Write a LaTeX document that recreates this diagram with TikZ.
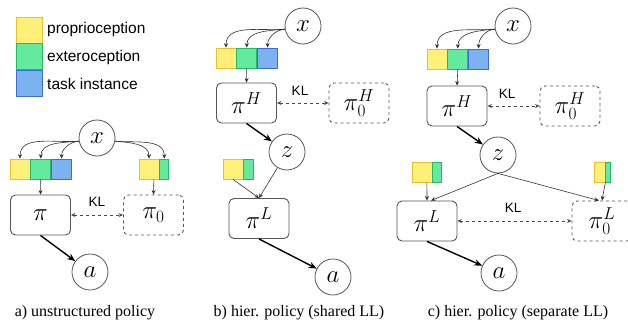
\documentclass[tikz,border=0pt]{standalone}
\usepackage{fontspec}
\setmainfont{Liberation Serif}
\setsansfont{Liberation Sans}
\usetikzlibrary{arrows.meta,positioning,calc}
\definecolor{propfill}{RGB}{255,240,122}
\definecolor{propdraw}{RGB}{232,192,48}
\definecolor{extfill}{RGB}{99,234,158}
\definecolor{extdraw}{RGB}{40,182,100}
\definecolor{taskfill}{RGB}{125,178,240}
\definecolor{taskdraw}{RGB}{58,110,212}
\definecolor{linegray}{RGB}{85,85,85}

\begin{document}
\begin{tikzpicture}[x=1pt,y=-1pt,
	var/.style={circle,draw=linegray,line width=0.8pt,minimum size=36pt,inner sep=0pt,font=\fontsize{24}{28}\selectfont},
	pol/.style={rectangle,rounded corners=5pt,draw=linegray,line width=0.9pt,minimum width=60pt,minimum height=40pt,inner sep=0pt,font=\fontsize{24}{28}\selectfont},
	prior/.style={pol,dashed},
	sq/.style={minimum width=20pt,minimum height=20pt,inner sep=0pt,line width=0.8pt},
	prop/.style={sq,fill=propfill,draw=propdraw},
	extero/.style={sq,fill=extfill,draw=extdraw},
	task/.style={sq,fill=taskfill,draw=taskdraw},
	feed/.style={-{Stealth[length=4.5pt,width=4pt]},line width=0.6pt,draw=black!80},
	act/.style={-{Stealth[length=8pt,width=6.5pt]},line width=1.4pt},
	kl/.style={{Stealth[length=4.5pt,width=4pt]}-{Stealth[length=4.5pt,width=4pt]},dashed,line width=0.6pt,draw=black!70},
	lbl/.style={font=\sffamily\fontsize{13.5}{16}\selectfont},
	legtext/.style={anchor=west,font=\sffamily\fontsize{15.5}{18}\selectfont,inner sep=0pt},
	captext/.style={font=\fontsize{16}{19}\selectfont,anchor=base}]
	\useasboundingbox (0,0) rectangle (628,324);

	\node[prop,minimum size=26pt] (legp) at (29,30) {};
	\node[extero,minimum size=26pt] (lege) at (29,56) {};
	\node[task,minimum size=26pt] (legt) at (29,83) {};
	\node[legtext] (legptext) at (47,29) {proprioception};
	\node[legtext] (legetext) at (47,57) {exteroception};
	\node[legtext] (legttext) at (47,84) {task instance};

	\node[var] (xa) at (97,138) {$x$};
	\node[prop] (ay1) at (20,169) {};
	\node[extero,right=0pt of ay1] (ag1) {};
	\node[task,right=0pt of ag1] (ab1) {};
	\node[prop] (ay2) at (149,169) {};
	\node[extero,minimum width=9pt,right=0pt of ay2] (ag2) {};
	\coordinate (ain2) at ($(ay2.south west)!0.5!(ag2.south east)$);
	\node[pol] (pia) at (40.5,215) {$\pi$};
	\node[prior] (pia0) at (153.5,215) {$\pi_0$};
	\node[lbl] (kla) at (97,202) {KL};
	\node[var] (aa) at (90,272) {$a$};
	\draw[feed] (xa.190) to[out=185,in=90] (ay1.north);
	\draw[feed] (xa.190) to[out=185,in=90] (ag1.north);
	\draw[feed] (xa.190) to[out=185,in=90] (ab1.north);
	\draw[feed] (xa.350) to[out=-5,in=90] (ay2.north);
	\draw[feed] (xa.350) to[out=-5,in=90] (ag2.north);
	\draw[feed] (ag1.south) -- (pia.north);
	\draw[feed] (ain2) -- (pia0.north);
	\draw[kl] (pia) -- (pia0);
	\draw[act] (pia.south) -- (aa);
	\node[captext] (capa) at (85,316) {a) unstructured policy};

	\node[var] (xb) at (303,26) {$x$};
	\node[prop] (by1) at (226,58) {};
	\node[extero,right=0pt of by1] (bg1) {};
	\node[task,right=0pt of bg1] (bb1) {};
	\node[pol] (pihb) at (246.5,103) {$\pi^H$};
	\node[prior] (pihb0) at (359,103) {$\pi_0^H$};
	\node[lbl] (klb) at (300,91) {KL};
	\node[var] (zb) at (287,152) {$z$};
	\node[prop] (by2) at (233,169) {};
	\node[extero,minimum width=10pt,right=0pt of by2] (bg2) {};
	\node[pol] (pilb) at (259,218.5) {$\pi^L$};
	\node[var] (ab) at (333,277) {$a$};
	\draw[feed] (xb.190) to[out=185,in=90] (by1.north);
	\draw[feed] (xb.190) to[out=185,in=90] (bg1.north);
	\draw[feed] (xb.190) to[out=185,in=90] (bb1.north);
	\draw[feed] (bg1.south) -- (pihb.north);
	\draw[kl] (pihb) -- (pihb0);
	\draw[act] (pihb.south) -- (zb);
	\draw[feed] (by2.south) -- (pilb.north);
	\draw[feed] (zb) -- (pilb.north);
	\draw[act] (pilb.south) -- (ab);
	\node[captext] (capb) at (299,316) {b) hier. policy (shared LL)};

	\node[var] (xc) at (513,26) {$x$};
	\node[prop] (cy1) at (437,59) {};
	\node[extero,right=0pt of cy1] (cg1) {};
	\node[task,right=0pt of cg1] (cb1) {};
	\node[pol] (pihc) at (457,106) {$\pi^H$};
	\node[prior] (pihc0) at (570,106) {$\pi_0^H$};
	\node[lbl] (klc1) at (507,94) {KL};
	\node[var] (zc) at (498,155) {$z$};
	\node[prop] (cy2) at (422,172) {};
	\node[extero,minimum width=9pt,right=0pt of cy2] (cg2) {};
	\coordinate (cin2) at ($(cy2.south west)!0.5!(cg2.south east)$);
	\node[prop,minimum width=11pt] (cy3) at (599.5,172) {};
	\node[extero,minimum width=5pt,right=0pt of cy3] (cg3) {};
	\node[pol] (pilc) at (427,221) {$\pi^L$};
	\node[prior] (pilc0) at (602,221) {$\pi_0^L$};
	\node[lbl] (klc2) at (513,208) {KL};
	\node[var] (ac) at (499,273) {$a$};
	\draw[feed] (xc.190) to[out=185,in=90] (cy1.north);
	\draw[feed] (xc.190) to[out=185,in=90] (cg1.north);
	\draw[feed] (xc.190) to[out=185,in=90] (cb1.north);
	\draw[feed] (cg1.south) -- (pihc.north);
	\draw[kl] (pihc) -- (pihc0);
	\draw[act] (pihc.south) -- (zc);
	\draw[feed] (cin2) -- (pilc.north);
	\draw[feed] (cy3.south east) -- (pilc0.north);
	\draw[feed] (zc.south) -- ([xshift=4pt]pilc.north);
	\draw[feed] (zc.south) -- ([xshift=-3pt]pilc0.north);
	\draw[kl] (pilc) -- (pilc0);
	\draw[act] (pilc.south) -- (ac);
	\node[captext] (capc) at (518,316) {c) hier. policy (separate LL)};
\end{tikzpicture}
\end{document}
